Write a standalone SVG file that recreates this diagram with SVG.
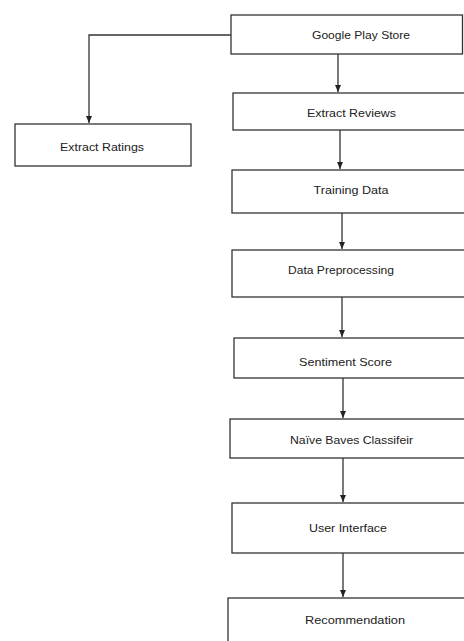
<svg xmlns="http://www.w3.org/2000/svg" width="464" height="641" viewBox="0 0 464 641">
<style>
.box{fill:#fff;stroke:#333;stroke-width:1.3}
.lbl{font-family:"Liberation Sans",Arial,sans-serif;font-size:11.5px;fill:#222;text-anchor:middle}
.con{fill:none;stroke:#333;stroke-width:1.3}
</style>
<defs>
<marker id="arr" viewBox="0 0 7 8" refX="7" refY="4" markerWidth="7" markerHeight="8" markerUnits="userSpaceOnUse" orient="auto">
<path d="M0,1 L7,4 L0,7 Z" fill="#222"/>
</marker>
</defs>
<rect width="464" height="641" fill="#fff"/>
<g id="connectors">
<path class="con" d="M231,35 H89 V123" marker-end="url(#arr)"/>
<path class="con" d="M338,54 V92" marker-end="url(#arr)"/>
<path class="con" d="M340,130 V169" marker-end="url(#arr)"/>
<path class="con" d="M342,213 V249" marker-end="url(#arr)"/>
<path class="con" d="M342,297 V337" marker-end="url(#arr)"/>
<path class="con" d="M343,378 V418" marker-end="url(#arr)"/>
<path class="con" d="M343,458 V502" marker-end="url(#arr)"/>
<path class="con" d="M343,553 V597" marker-end="url(#arr)"/>
</g>
<g id="google-play-store">
<rect class="box" x="231" y="15" width="231.5" height="39"/>
<text class="lbl" x="361" y="39" textLength="98" lengthAdjust="spacingAndGlyphs">Google Play Store</text>
</g>
<g id="extract-ratings">
<rect class="box" x="15" y="124" width="176" height="42"/>
<text class="lbl" x="102" y="151" textLength="84" lengthAdjust="spacingAndGlyphs">Extract Ratings</text>
</g>
<g id="extract-reviews">
<rect class="box" x="233" y="93" width="240" height="37"/>
<text class="lbl" x="351.5" y="117" textLength="89" lengthAdjust="spacingAndGlyphs">Extract Reviews</text>
</g>
<g id="training-data">
<rect class="box" x="232" y="170" width="240" height="43"/>
<text class="lbl" x="351" y="194" textLength="75" lengthAdjust="spacingAndGlyphs">Training Data</text>
</g>
<g id="data-preprocessing">
<rect class="box" x="232" y="250" width="240" height="47"/>
<text class="lbl" x="341" y="274" textLength="106" lengthAdjust="spacingAndGlyphs">Data Preprocessing</text>
</g>
<g id="sentiment-score">
<rect class="box" x="234" y="338" width="240" height="40"/>
<text class="lbl" x="345.5" y="366" textLength="93" lengthAdjust="spacingAndGlyphs">Sentiment Score</text>
</g>
<g id="naive-bayes">
<rect class="box" x="230" y="419" width="240" height="39"/>
<text class="lbl" x="351.5" y="444" textLength="123" lengthAdjust="spacingAndGlyphs">Naïve Baves Classifeir</text>
</g>
<g id="user-interface">
<rect class="box" x="232" y="503" width="240" height="50"/>
<text class="lbl" x="348" y="532" textLength="78" lengthAdjust="spacingAndGlyphs">User Interface</text>
</g>
<g id="recommendation">
<rect class="box" x="228" y="598" width="250" height="60"/>
<text class="lbl" x="355" y="624" textLength="100" lengthAdjust="spacingAndGlyphs">Recommendation</text>
</g>
</svg>
